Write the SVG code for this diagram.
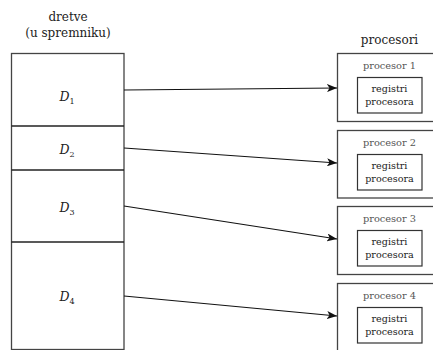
<svg xmlns="http://www.w3.org/2000/svg" width="433" height="350" viewBox="0 0 433 350">
<style>
text{font-family:"DejaVu Serif","Liberation Serif",serif;fill:#222;text-anchor:middle}
.h{font-size:12px}
.d{font-size:12.5px;font-style:italic}
.s{font-size:8px;font-style:normal}
.p{font-size:9.8px;fill:#555}
.r{font-size:9.6px}
.box{fill:#fff;stroke:#444;stroke-width:1.3}
.in{fill:#fff;stroke:#333;stroke-width:1.2}
.div{stroke:#222;stroke-width:1.3}
.c{stroke:#111;stroke-width:1.1;fill:none;marker-end:url(#ah)}
</style>
<defs>
<marker id="ah" viewBox="0 0 10 8" refX="10" refY="4" markerWidth="10" markerHeight="8" markerUnits="userSpaceOnUse" orient="auto">
<path d="M0,0 L10,4 L0,8 L2.5,4 Z" fill="#111"/>
</marker>
</defs>
<rect width="433" height="350" fill="#fff"/>
<g id="threads">
<text class="h" x="68" y="21">dretve</text>
<text class="h" x="68" y="37">(u spremniku)</text>
<rect class="box" x="11.5" y="53.5" width="112.5" height="296"/>
<line class="div" x1="11.5" y1="126" x2="124" y2="126"/>
<line class="div" x1="11.5" y1="170" x2="124" y2="170"/>
<line class="div" x1="11.5" y1="242" x2="124" y2="242"/>
</g>
<g id="D1"><text class="d" x="67" y="101">D<tspan class="s" dy="3">1</tspan></text></g>
<g id="D2"><text class="d" x="67" y="154">D<tspan class="s" dy="3">2</tspan></text></g>
<g id="D3"><text class="d" x="67" y="212">D<tspan class="s" dy="3">3</tspan></text></g>
<g id="D4"><text class="d" x="67" y="301">D<tspan class="s" dy="3">4</tspan></text></g>
<text class="h" x="389.5" y="44">procesori</text>
<g id="P1">
<rect class="box" x="337.5" y="53.5" width="106" height="68"/>
<text class="p" x="389.5" y="69">procesor 1</text>
<rect class="in" x="357.5" y="77.5" width="64.5" height="35.5"/>
<text class="r" x="389.5" y="92">registri</text>
<text class="r" x="389.5" y="105">procesora</text>
</g>
<g id="P2">
<rect class="box" x="337.5" y="130.5" width="106" height="67.5"/>
<text class="p" x="389.5" y="146">procesor 2</text>
<rect class="in" x="357.5" y="154.5" width="64.5" height="35.5"/>
<text class="r" x="389.5" y="169">registri</text>
<text class="r" x="389.5" y="182">procesora</text>
</g>
<g id="P3">
<rect class="box" x="337.5" y="206.5" width="106" height="68"/>
<text class="p" x="389.5" y="222">procesor 3</text>
<rect class="in" x="357.5" y="230.5" width="64.5" height="35.5"/>
<text class="r" x="389.5" y="245">registri</text>
<text class="r" x="389.5" y="258">procesora</text>
</g>
<g id="P4">
<rect class="box" x="337.5" y="283.5" width="106" height="68"/>
<text class="p" x="389.5" y="299">procesor 4</text>
<rect class="in" x="357.5" y="307.5" width="64.5" height="35.5"/>
<text class="r" x="389.5" y="322">registri</text>
<text class="r" x="389.5" y="335">procesora</text>
</g>
<g id="connectors">
<line class="c" x1="124" y1="90" x2="337" y2="88"/>
<line class="c" x1="124" y1="148" x2="337" y2="163"/>
<line class="c" x1="124" y1="206" x2="337" y2="239"/>
<line class="c" x1="124" y1="296" x2="337" y2="316"/>
</g>
</svg>
